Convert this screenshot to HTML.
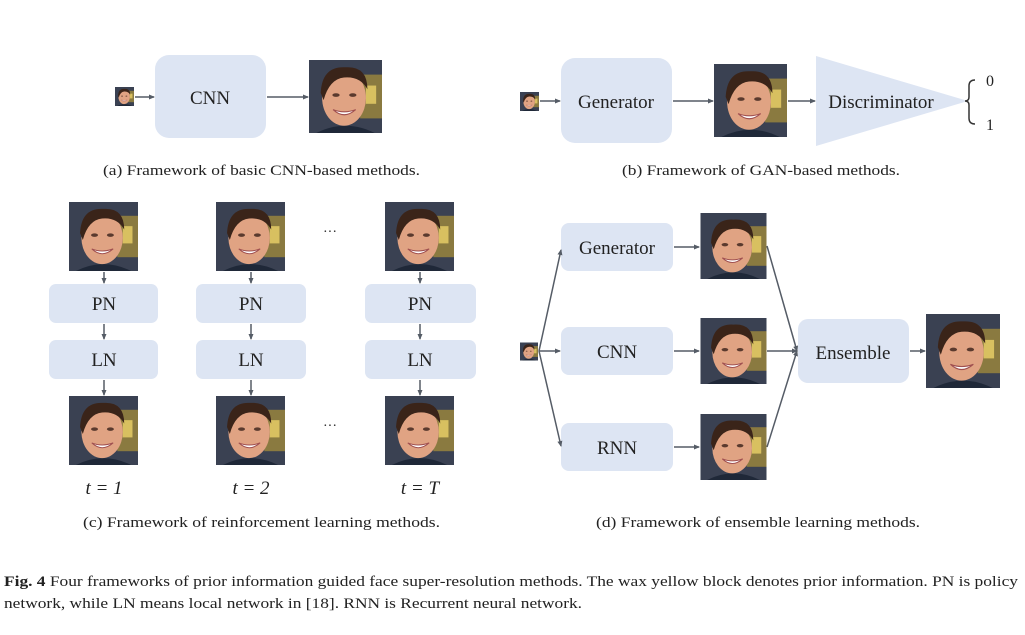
<!DOCTYPE html>
<html><head><meta charset="utf-8"><style>
html,body{margin:0;padding:0;background:#fff;}
svg{display:block;}
text{font-family:"Liberation Serif",serif;fill:#222;}
</style></head><body>
<svg width="1025" height="635" viewBox="0 0 1025 635" xmlns="http://www.w3.org/2000/svg">
<defs>
<symbol id="face" viewBox="0 0 100 100">
<rect width="100" height="100" fill="#3a4152"/>
<rect x="70" y="20" width="30" height="60" fill="#8a7a40"/>
<rect x="78" y="35" width="14" height="25" fill="#d8c060"/>
<path d="M10 100 Q50 80 90 100Z" fill="#1f2838"/>
<ellipse cx="48" cy="52" rx="30" ry="38" fill="#e0a383"/>
<path d="M16 45 Q18 8 50 10 Q80 8 80 40 Q70 22 48 24 Q28 26 20 55Z" fill="#3a2419"/>
<ellipse cx="37" cy="48" rx="5" ry="2.5" fill="#5a3a2e"/>
<ellipse cx="60" cy="48" rx="5" ry="2.5" fill="#5a3a2e"/>
<path d="M33 68 Q48 82 64 68 Q48 74 33 68Z" fill="#fff" stroke="#a05050" stroke-width="1.5"/>
</symbol>
<marker id="ar" markerWidth="6" markerHeight="6" refX="5" refY="3" orient="auto" markerUnits="userSpaceOnUse"><path d="M0,0.5 L6,3 L0,5.5Z" fill="#555c66"/></marker>
</defs>
<g fill="#dde5f3">
<rect x="155" y="55" width="111" height="83" rx="14"/>
<rect x="561" y="58" width="111" height="85" rx="14"/>
<polygon points="816,56 968,101 816,146"/>
<rect x="49" y="284" width="109" height="39" rx="7"/><rect x="49" y="340" width="109" height="39" rx="7"/>
<rect x="196" y="284" width="110" height="39" rx="7"/><rect x="196" y="340" width="110" height="39" rx="7"/>
<rect x="365" y="284" width="111" height="39" rx="7"/><rect x="365" y="340" width="111" height="39" rx="7"/>
<rect x="561" y="223" width="112" height="48" rx="8"/>
<rect x="561" y="327" width="112" height="48" rx="8"/>
<rect x="561" y="423" width="112" height="48" rx="8"/>
<rect x="798" y="319" width="111" height="64" rx="10"/>
</g>
<use href="#face" x="115" y="87" width="19" height="19"/>
<use href="#face" x="309" y="60" width="73" height="73"/>
<use href="#face" x="520" y="92" width="19" height="19"/>
<use href="#face" x="714" y="64" width="73" height="73"/>
<use href="#face" x="69" y="202" width="69" height="69"/>
<use href="#face" x="216" y="202" width="69" height="69"/>
<use href="#face" x="385" y="202" width="69" height="69"/>
<use href="#face" x="69" y="396" width="69" height="69"/>
<use href="#face" x="216" y="396" width="69" height="69"/>
<use href="#face" x="385" y="396" width="69" height="69"/>
<use href="#face" x="700" y="213" width="67" height="66"/>
<use href="#face" x="700" y="318" width="67" height="66"/>
<use href="#face" x="700" y="414" width="67" height="66"/>
<use href="#face" x="926" y="314" width="74" height="74"/>
<use href="#face" x="520" y="342" width="18" height="19"/>
<g stroke="#555c66" stroke-width="1.5" fill="none" marker-end="url(#ar)">
<line x1="135" y1="97" x2="154" y2="97"/>
<line x1="267" y1="97" x2="308" y2="97"/>
<line x1="540" y1="101" x2="560" y2="101"/>
<line x1="673" y1="101" x2="713" y2="101"/>
<line x1="788" y1="101" x2="815" y2="101"/>
<line x1="104" y1="272" x2="104" y2="283"/><line x1="104" y1="324" x2="104" y2="339"/><line x1="104" y1="380" x2="104" y2="395"/>
<line x1="251" y1="272" x2="251" y2="283"/><line x1="251" y1="324" x2="251" y2="339"/><line x1="251" y1="380" x2="251" y2="395"/>
<line x1="420" y1="272" x2="420" y2="283"/><line x1="420" y1="324" x2="420" y2="339"/><line x1="420" y1="380" x2="420" y2="395"/>
<line x1="539" y1="351" x2="561" y2="250"/>
<line x1="539" y1="351" x2="560" y2="351"/>
<line x1="539" y1="351" x2="561" y2="446"/>
<line x1="674" y1="247" x2="699" y2="247"/>
<line x1="674" y1="351" x2="699" y2="351"/>
<line x1="674" y1="447" x2="699" y2="447"/>
<line x1="767" y1="246" x2="797" y2="351"/>
<line x1="767" y1="351" x2="797" y2="351"/>
<line x1="767" y1="447" x2="797" y2="351"/>
<line x1="910" y1="351" x2="925" y2="351"/>
</g>
<path d="M975 80 Q969 80 969 86 L969 97 Q969 101 965 101 Q969 101 969 105 L969 118 Q969 124 975 124" stroke="#333" stroke-width="1.5" fill="none"/>
<g font-size="19" text-anchor="middle">
<text x="210" y="104">CNN</text>
<text x="616" y="108">Generator</text>
<text x="881" y="108">Discriminator</text>
<text x="104" y="310">PN</text><text x="104" y="366">LN</text>
<text x="251" y="310">PN</text><text x="251" y="366">LN</text>
<text x="420" y="310">PN</text><text x="420" y="366">LN</text>
<text x="617" y="254">Generator</text>
<text x="617" y="358">CNN</text>
<text x="617" y="454">RNN</text>
<text x="853" y="359">Ensemble</text>
<text x="990" y="86" font-size="16">0</text>
<text x="990" y="130" font-size="16">1</text>
<text x="330" y="236" font-size="14">···</text>
<text x="330" y="430" font-size="14">···</text>
</g>
<g font-size="19" text-anchor="middle" font-style="italic">
<text x="104" y="494">t = 1</text>
<text x="251" y="494">t = 2</text>
<text x="420" y="494">t = T</text>
</g>
<g font-size="15">
<text x="103" y="175" textLength="317" lengthAdjust="spacingAndGlyphs">(a) Framework of basic CNN-based methods.</text>
<text x="622" y="175" textLength="278" lengthAdjust="spacingAndGlyphs">(b) Framework of GAN-based methods.</text>
<text x="83" y="527" textLength="357" lengthAdjust="spacingAndGlyphs">(c) Framework of reinforcement learning methods.</text>
<text x="596" y="527" textLength="324" lengthAdjust="spacingAndGlyphs">(d) Framework of ensemble learning methods.</text>
</g>
<g font-size="15">
<text x="4" y="586" textLength="1014" lengthAdjust="spacingAndGlyphs"><tspan font-weight="bold">Fig. 4</tspan> Four frameworks of prior information guided face super-resolution methods. The wax yellow block denotes prior information. PN is policy</text>
<text x="4" y="608" textLength="578" lengthAdjust="spacingAndGlyphs">network, while LN means local network in [18]. RNN is Recurrent neural network.</text>
</g>
</svg>
</body></html>
